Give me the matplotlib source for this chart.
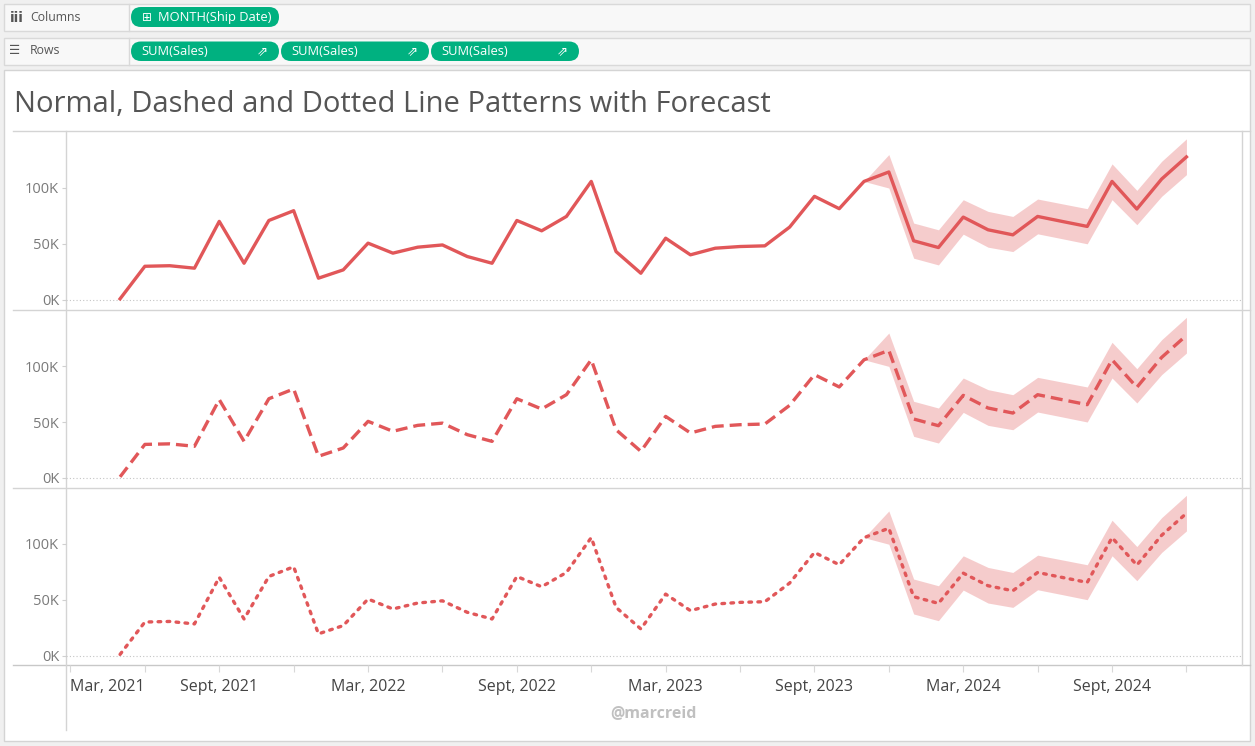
import matplotlib
matplotlib.use("Agg")
import matplotlib.pyplot as plt
from matplotlib.patches import Rectangle, FancyBboxPatch
from matplotlib.lines import Line2D
import matplotlib.ticker as mticker

# ---------------- data (sales in thousands) ----------------
# month index: 0 = Mar 2021
actual_months = list(range(2, 33))          # May 2021 .. Nov 2023
actual_sales_k = [1, 30, 30.5, 28.3, 70, 32.7, 70.8, 79.5, 19.4, 26.8, 50.6,
                  41.7, 47, 49, 38.7, 32.7, 70.8, 61.6, 74.4, 105.6, 43.1, 23.8,
                  55, 40.2, 46.1, 47.6, 48.2, 64.9, 92.3, 81.3, 105.6]
forecast_months = list(range(33, 46))       # Dec 2023 .. Dec 2024
forecast_sales_k = [114, 52.7, 46.7, 73.8, 62.5, 58, 74.4, 69.9, 65.5, 105.6,
                    81, 107.7, 127.4]
forecast_upper_k = [129.5, 68.5, 62.5, 89.3, 78.9, 74.4, 89.9, 85.6, 81.3,
                    121.2, 97.6, 123.5, 143.5]
forecast_lower_k = [99.7, 37.2, 31.2, 58.6, 47.0, 43.1, 58.9, 54.5, 50.0,
                    89.3, 67, 92.3, 111.6]

tick_months = list(range(0, 46, 3))
tick_labels = ["Mar, 2021", "", "Sept, 2021", "", "Mar, 2022", "", "Sept, 2022", "",
               "Mar, 2023", "", "Sept, 2023", "", "Mar, 2024", "", "Sept, 2024", ""]
y_ticks_k = [0, 50, 100]

title = "Normal, Dashed and Dotted Line Patterns with Forecast"
column_pills = ["MONTH(Ship Date)"]
row_pills = ["SUM(Sales)", "SUM(Sales)", "SUM(Sales)"]

# ---------------- styling ----------------
W, H = 1255, 746
LINE = "#e15759"
BORDER = "#d4d4d4"
PILL = "#00b180"
FONT = ["Open Sans", "DejaVu Sans"]
plt.rcParams["font.family"] = FONT

fig = plt.figure(figsize=(W / 100, H / 100), dpi=100)
fig.patch.set_facecolor("#f0f0f0")

# background "chrome" axes in pixel units
bg = fig.add_axes([0, 0, 1, 1], zorder=-5)
bg.set_xlim(0, W)
bg.set_ylim(H, 0)
bg.axis("off")

# shelves
for (y0, y1) in [(4, 31), (38, 65)]:
    bg.add_patch(Rectangle((4, y0), 1246, y1 - y0, facecolor="#f8f8f8",
                           edgecolor="#d9d9d9", lw=1))
    bg.add_line(Line2D([128.5, 128.5], [y0, y1], color="#d9d9d9", lw=1))

bg.text(10, 17.5, "iii", fontsize=10, color="#555555", va="center", ha="left",
        fontweight="bold", family=["DejaVu Sans"])
bg.text(30, 17.5, "Columns", fontsize=8.8, color="#555555", va="center", ha="left")
bg.text(9, 51, "\u2630", fontsize=9, color="#555555", va="center", ha="left",
        family=["DejaVu Sans"])
bg.text(30, 51, "Rows", fontsize=8.8, color="#555555", va="center", ha="left")

# column pill
for i, name in enumerate(column_pills):
    x0 = 131 + i * 150
    bg.add_patch(FancyBboxPatch((x0, 7), 148, 20,
                                boxstyle="round,pad=0,rounding_size=10",
                                facecolor=PILL, edgecolor="none"))
    bg.text(x0 + 16, 17.5, "\u229e", fontsize=8.5, color="white", va="center",
            ha="center", family=["DejaVu Sans"])
    bg.text(x0 + 27, 17.5, name, fontsize=9.3, color="white", va="center", ha="left")

# row pills
for i, name in enumerate(row_pills):
    x0 = 131 + i * 150
    bg.add_patch(FancyBboxPatch((x0, 41.5), 148, 19.5,
                                boxstyle="round,pad=0,rounding_size=10",
                                facecolor=PILL, edgecolor="none"))
    bg.text(x0 + 10.5, 51.5, name, fontsize=9.3, color="white", va="center", ha="left")
    bg.text(x0 + 131, 51.5, "\u21d7", fontsize=9.5, color="white", va="center",
            ha="center", family=["DejaVu Sans"])

# main view area
bg.add_patch(Rectangle((4, 70), 1246, 671, facecolor="white", edgecolor=BORDER, lw=1))
bg.text(14, 105, title, fontsize=21, color="#555555", va="center", ha="left")

# pane borders
for y in [131, 309.5, 487.5, 665]:
    bg.add_line(Line2D([13, 1250], [y, y], color=BORDER if y != 665 else "#c8c8c8", lw=1))
bg.add_line(Line2D([65.5, 65.5], [131, 730], color=BORDER, lw=1))
bg.add_line(Line2D([1241.5, 1241.5], [131, 665], color=BORDER, lw=1))

bg.text(653, 713, "@marcreid", fontsize=11.5, color="#c0c0c0", fontweight="bold",
        va="center", ha="center")

# ---------------- panes ----------------
panes = [(131, 309.5), (309.5, 487.5), (487.5, 665)]
styles = [dict(linestyle="-"),
          dict(linestyle=(0, (3.6, 1.8)), dash_capstyle="butt"),
          dict(linestyle=(0, (0.8, 1.9)), dash_capstyle="round")]

all_months = actual_months + forecast_months
all_sales = actual_sales_k + forecast_sales_k
band_months = [actual_months[-1]] + forecast_months
band_upper = [actual_sales_k[-1]] + forecast_upper_k
band_lower = [actual_sales_k[-1]] + forecast_lower_k

axes = []
for k, ((y0, y1), st) in enumerate(zip(panes, styles)):
    ax = fig.add_axes([66 / W, 1 - y1 / H, (1241 - 66) / W, (y1 - y0) / H])
    ax.patch.set_alpha(0)
    for s in ax.spines.values():
        s.set_visible(False)
    ax.set_xlim(-0.18, 47.2)
    ax.set_ylim(-8.5, 150.5)
    ax.axhline(0, color="#c4c4c4", lw=0.8, linestyle=(0, (1, 2)), zorder=1)
    ax.fill_between(band_months, band_lower, band_upper, color=LINE, alpha=0.3,
                    lw=0, zorder=2)
    ax.plot(all_months, all_sales, color=LINE, lw=2.4, zorder=3, **st)
    ax.set_yticks(y_ticks_k)
    ax.yaxis.set_major_formatter(mticker.FuncFormatter(lambda v, p: f"{v:.0f}K"))
    ax.tick_params(axis="y", length=3, width=0.8, color="#d0d0d0", pad=2,
                   labelsize=10.5, labelcolor="#7a7a7a")
    if k < 2:
        ax.set_xticks([])
    else:
        ax.set_xticks(tick_months, labels=tick_labels)
        ax.tick_params(axis="x", length=5, width=0.8, color="#d8d8d8", pad=5,
                       labelsize=11.5, labelcolor="#444444")
        first = ax.get_xticklabels()[0]
        first.set_horizontalalignment("left")
    axes.append(ax)

fig.savefig("out.png", dpi=100, facecolor=fig.get_facecolor())
